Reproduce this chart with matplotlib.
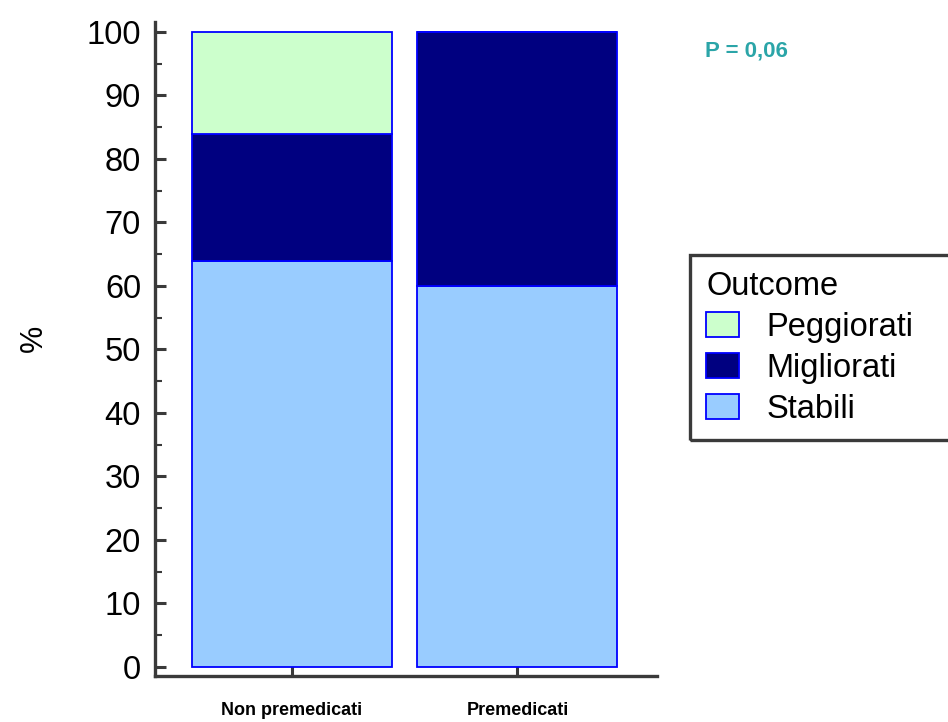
import matplotlib.pyplot as plt
from matplotlib.patches import Patch, Rectangle
from matplotlib.ticker import MultipleLocator

groups = ['Non premedicati', 'Premedicati']
stabili = [64, 60]
migliorati = [20, 40]
peggiorati = [16, 0]

outcomes = ['Stabili', 'Migliorati', 'Peggiorati']
colors = {'Stabili': '#99ccff', 'Migliorati': '#000080', 'Peggiorati': '#ccffcc'}
p_text = 'P = 0,06'

plt.rcParams['font.family'] = ['Liberation Sans', 'DejaVu Sans']

fig = plt.figure(figsize=(9.48, 7.22), dpi=100)
ax = fig.add_axes([0.1635, 0.0637, 0.5295, 0.9058])

x = list(range(len(groups)))
bottom = [0] * len(groups)
for name, vals in zip(outcomes, [stabili, migliorati, peggiorati]):
    ax.bar(x, vals, bottom=bottom, width=0.887, color=colors[name],
           edgecolor='#0000ff', linewidth=1.3, zorder=2)
    bottom = [b + v for b, v in zip(bottom, vals)]

ax.set_xlim(-0.6075, 1.619)
ax.set_ylim(-1.42, 101.57)

for side in ['top', 'right']:
    ax.spines[side].set_visible(False)
for side in ['left', 'bottom']:
    ax.spines[side].set_linewidth(2.4)
    ax.spines[side].set_color('#3a3a3a')

ax.yaxis.set_major_locator(MultipleLocator(10))
ax.yaxis.set_minor_locator(MultipleLocator(5))
ax.tick_params(axis='y', which='major', direction='in', length=8, width=2.2,
               color='#3a3a3a', labelsize=23.5, pad=10)
ax.tick_params(axis='y', which='minor', direction='in', length=5, width=1.5,
               color='#3a3a3a')
ax.set_yticks(range(0, 101, 10))

ax.set_xticks(x)
ax.set_xticklabels(groups, fontsize=13, fontweight='bold')
ax.tick_params(axis='x', direction='in', length=7, width=2.2,
               color='#3a3a3a', pad=19)

ax.set_ylabel('%', fontsize=22)
ax.yaxis.set_label_coords(-0.212, 0.517)

# legend box drawn separately so it runs off the right edge
fig.patches.append(Rectangle((690 / 948, 1 - 440 / 722), 0.3, (440 - 255) / 722,
                             transform=fig.transFigure, fill=False,
                             edgecolor='#3a3a3a', linewidth=2.4, zorder=5))
handles = [Patch(facecolor=colors[n], edgecolor='#0000ff', linewidth=1.3, label=n)
           for n in reversed(outcomes)]
leg = fig.legend(handles=handles, title='Outcome', loc='upper left',
                 bbox_to_anchor=(0.728, 0.647), fontsize=23.5, title_fontsize=23.5,
                 frameon=False, handlelength=1.0, handleheight=0.8,
                 handletextpad=0.85, labelspacing=0.3, borderpad=0.5,
                 borderaxespad=0)
leg._legend_box.align = 'left'

fig.text(705 / 948, 0.929, p_text, fontsize=16, fontweight='bold',
         color='#2ba5a8', va='center', ha='left')

fig.savefig('out.png', dpi=100)
